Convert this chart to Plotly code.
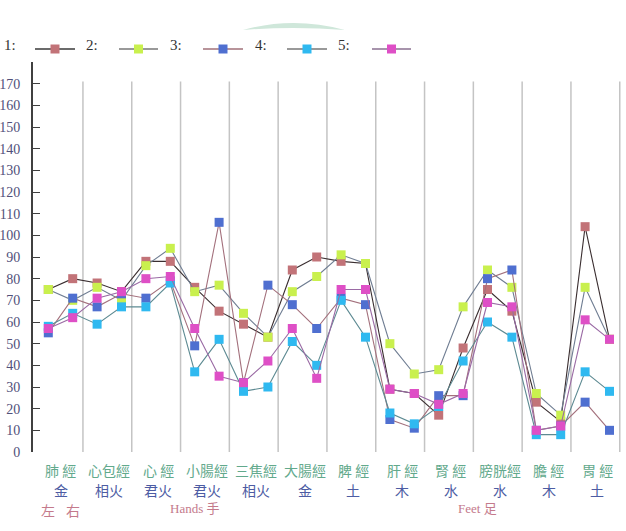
import plotly.graph_objects as go

# ---- data ----
meridians = ["肺 經", "心包經", "心 經", "小腸經", "三焦經", "大腸經",
             "脾 經", "肝 經", "腎 經", "膀胱經", "膽 經", "胃 經"]
elements = ["金", "相火", "君火", "君火", "相火", "金",
            "土", "木", "水", "水", "木", "土"]
series_names = ["1:", "2:", "3:", "4:", "5:"]

s1 = [75, 80, 78, 74, 88, 88, 76, 65, 59, 53, 84, 90, 88, 87, 29, 27, 17, 48, 75, 65, 23, 14, 104, 52]
s2 = [75, 70, 76, 70, 86, 94, 74, 77, 64, 53, 74, 81, 91, 87, 50, 36, 38, 67, 84, 76, 27, 17, 76, 52]
s3 = [55, 71, 67, 73, 71, 79, 49, 106, 32, 77, 68, 57, 71, 68, 15, 11, 26, 26, 80, 84, 10, 12, 23, 10]
s4 = [58, 64, 59, 67, 67, 78, 37, 52, 28, 30, 51, 40, 70, 53, 18, 13, 21, 42, 60, 53, 8, 8, 37, 28]
s5 = [57, 62, 71, 74, 80, 81, 57, 35, 32, 42, 57, 34, 75, 75, 29, 27, 22, 27, 69, 67, 10, 12, 61, 52]
all_series = [s1, s2, s3, s4, s5]

y_ticks = list(range(0, 180, 10))

# ---- styles ----
marker_colors = ["#c27378", "#c9f04e", "#4f6fd0", "#2fb9f0", "#de4fc6"]
line_colors = ["#3a2e30", "#6f7d92", "#a3707c", "#5d8a92", "#9a6aa4"]

x_pos = list(range(len(s1)))
fig = go.Figure()
for vals, mc, lc, nm in zip(all_series, marker_colors, line_colors, series_names):
    fig.add_trace(go.Scatter(
        x=x_pos, y=vals, mode="lines+markers", name=nm,
        line=dict(color=lc, width=1.1),
        marker=dict(symbol="square", size=9, color=mc, line=dict(width=0)),
        showlegend=False,
    ))

W, H = 626, 531
L, R, T, B = 33, 0, 62, 79
pw, ph = W - L - R, H - T - B

def px_x(p):
    return (p - L) / pw

def px_y(p):
    return (H - B - p) / ph

shapes = []
# vertical separators between meridians
for k in range(len(meridians)):
    xb = 2 * k + 1.5
    shapes.append(dict(type="line", xref="x", yref="y", x0=xb - 0.08, x1=xb - 0.08,
                       y0=0, y1=171, line=dict(color="#c4c4c4", width=1.5), layer="below"))

# decorative green arc at top
shapes.append(dict(type="path", xref="paper", yref="paper",
                   path=f"M {px_x(243)},{px_y(30)} Q {px_x(293)},{px_y(16)} {px_x(345)},{px_y(30)} Q {px_x(293)},{px_y(26)} {px_x(243)},{px_y(30)} Z",
                   fillcolor="#cfe7da", line=dict(width=0)))

annotations = []
# legend drawn manually
leg_text_x = [2, 84, 168, 253, 336]
leg_line = [(35, 75), (119, 158), (203, 243), (287, 327), (372, 411)]
leg_line_col = ["#3a3a3a", "#777777", "#a07078", "#777777", "#8a7090"]
for i, nm in enumerate(series_names):
    annotations.append(dict(text=nm, xref="paper", yref="paper", x=px_x(leg_text_x[i]), y=px_y(45),
                            showarrow=False, xanchor="left", yanchor="middle",
                            font=dict(family="Liberation Serif", size=15, color="#333333")))
    x0, x1 = leg_line[i]
    shapes.append(dict(type="line", xref="paper", yref="paper", x0=px_x(x0), x1=px_x(x1),
                       y0=px_y(49), y1=px_y(49), line=dict(color=leg_line_col[i], width=1.5)))
    cx = (x0 + x1) / 2
    shapes.append(dict(type="rect", xref="paper", yref="paper", x0=px_x(cx - 4.5), x1=px_x(cx + 4.5),
                       y0=px_y(53.5), y1=px_y(44.5), fillcolor=marker_colors[i], line=dict(width=0)))

# category labels
for k, (m, e) in enumerate(zip(meridians, elements)):
    xc = 2 * k + 0.5
    annotations.append(dict(text=m, xref="x", yref="paper", x=xc, y=0, yshift=-18,
                            showarrow=False, xanchor="center", yanchor="middle",
                            font=dict(family="Noto Sans CJK TC", size=14, color="#62a98c")))
    annotations.append(dict(text=e, xref="x", yref="paper", x=xc, y=0, yshift=-38,
                            showarrow=False, xanchor="center", yanchor="middle",
                            font=dict(family="Noto Sans CJK TC", size=14, color="#4d5ca3")))

annotations.append(dict(text="左", xref="x", yref="paper", x=0, y=0, yshift=-58, showarrow=False,
                        xanchor="center", yanchor="middle",
                        font=dict(family="Noto Sans CJK TC", size=14, color="#c47a8c")))
annotations.append(dict(text="右", xref="x", yref="paper", x=1, y=0, yshift=-58, showarrow=False,
                        xanchor="center", yanchor="middle",
                        font=dict(family="Noto Sans CJK TC", size=14, color="#c47a8c")))
annotations.append(dict(text="Hands 手", xref="x", yref="paper", x=6.0, y=0, yshift=-56, showarrow=False,
                        xanchor="center", yanchor="middle",
                        font=dict(family="Liberation Serif, Noto Sans CJK TC", size=13, color="#c47a8c")))
annotations.append(dict(text="Feet 足", xref="x", yref="paper", x=17.6, y=0, yshift=-56, showarrow=False,
                        xanchor="center", yanchor="middle",
                        font=dict(family="Liberation Serif, Noto Sans CJK TC", size=13, color="#c47a8c")))

fig.update_layout(
    width=W, height=H,
    margin=dict(l=L, r=R, t=T, b=B),
    paper_bgcolor="white", plot_bgcolor="white",
    showlegend=False,
    shapes=shapes, annotations=annotations,
    xaxis=dict(range=[-0.627, 23.676], showgrid=False, zeroline=False, showticklabels=False,
               showline=False, ticks=""),
    yaxis=dict(range=[0, 180], tickvals=y_ticks, ticktext=[str(v) for v in y_ticks],
               showgrid=False, zeroline=False, showline=True, linecolor="#404040", linewidth=2,
               ticks="inside", ticklen=7, tickcolor="#404040", tickwidth=1,
               ticklabelstandoff=8,
               tickfont=dict(family="Liberation Serif", size=14, color="#50507a")),
)

fig.write_html("out.html")
